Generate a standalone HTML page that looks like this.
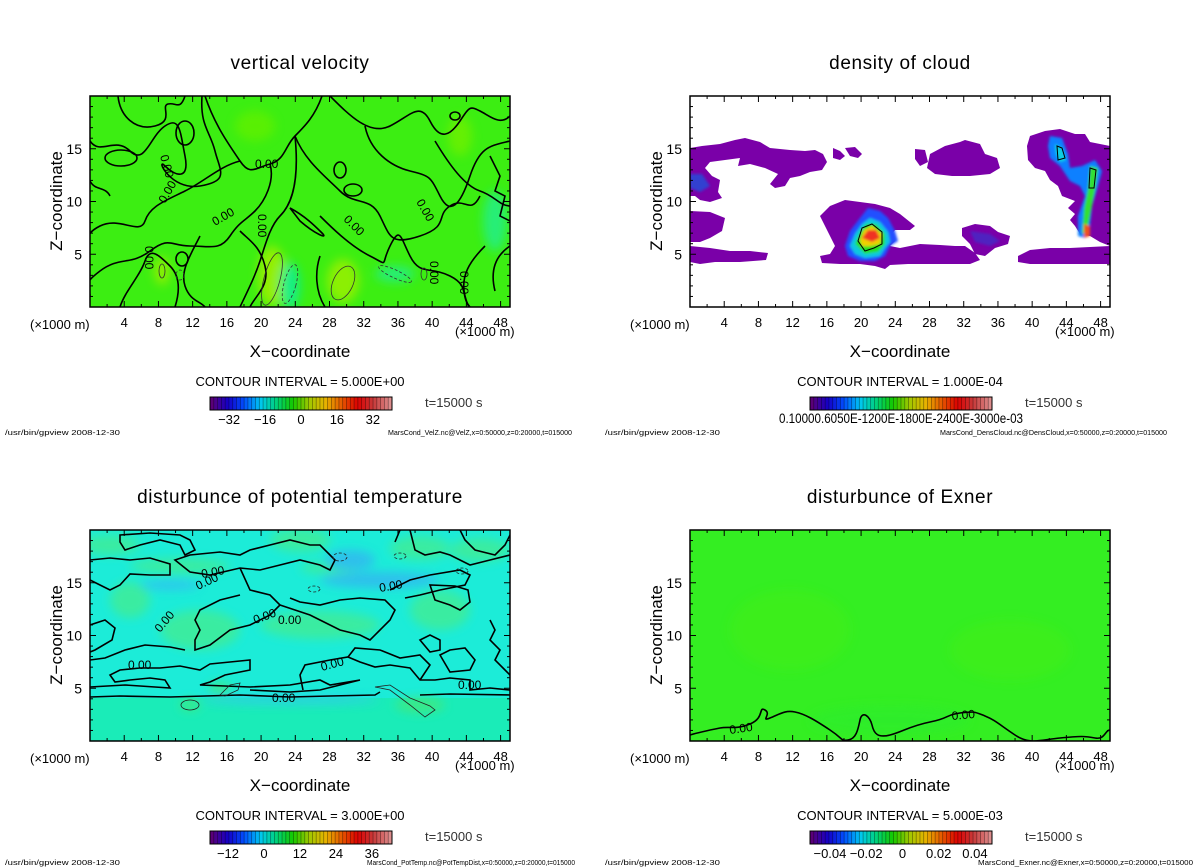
<!DOCTYPE html>
<html><head><meta charset="utf-8"><style>
html,body{margin:0;padding:0;background:#fff}
svg{display:block;font-family:"Liberation Sans",sans-serif}
</style></head><body>
<svg id="root" width="1200" height="868" viewBox="0 0 1200 868" xmlns="http://www.w3.org/2000/svg">
<defs>
<filter id="blur4"><feGaussianBlur stdDeviation="5"/></filter>
<filter id="blur2"><feGaussianBlur stdDeviation="1.2"/></filter>
<clipPath id="clipPlot"><rect x="0" y="0" width="420" height="211"/></clipPath>
</defs>

<!-- Panel 1: vertical velocity -->
<g>
<text x="300" y="69" font-size="19" text-anchor="middle" letter-spacing="0.6">vertical velocity</text>
<g transform="translate(90,96)">
<g clip-path="url(#clipPlot)">
<rect width="420" height="211" fill="#3cee12"/>
<g filter="url(#blur4)" opacity="0.8">
<ellipse cx="182" cy="180" rx="14" ry="30" fill="#a8f000"/>
<ellipse cx="253" cy="185" rx="16" ry="22" fill="#a0f000"/>
<ellipse cx="72" cy="175" rx="8" ry="14" fill="#a0f000"/>
<ellipse cx="200" cy="190" rx="10" ry="24" fill="#10eea0"/>
<ellipse cx="305" cy="178" rx="20" ry="8" fill="#20ee90"/>
<ellipse cx="405" cy="125" rx="12" ry="30" fill="#20ee90"/>
<ellipse cx="370" cy="40" rx="12" ry="20" fill="#70f000"/>
<ellipse cx="165" cy="30" rx="20" ry="15" fill="#60f000"/>
</g>
<g fill="none" stroke="#000" stroke-width="1.6">
<path d="M0,45 C10,60 25,40 40,55 S60,40 75,30 S90,35 95,60 S85,80 75,70 S80,95 110,90 S130,75 125,55 S110,30 112,0"/>
<path d="M28,0 C30,20 45,35 65,30 S70,10 78,8 S90,15 95,0"/>
<path d="M115,0 C125,30 140,50 150,65 S165,72 180,68 S195,50 205,40 S225,20 232,0"/>
<path d="M150,65 C130,70 115,85 95,95 S60,110 55,125 S30,120 10,130 S0,150 0,150"/>
<path d="M205,40 C215,65 235,80 250,95 S280,100 290,120 S300,150 330,140 S345,120 360,110 S380,120 390,100"/>
<path d="M180,68 C185,85 175,105 165,115 S150,125 140,140 S120,150 100,150 S80,140 60,155 S30,160 10,175 S0,190 0,200"/>
<path d="M205,40 C210,90 200,110 190,120 S175,150 170,165 S160,190 150,211"/>
<path d="M230,120 C240,130 260,150 280,160 S290,170 300,150 S310,140 320,160 S340,170 360,180 S370,200 380,211"/>
<path d="M240,0 C260,20 280,40 300,30 S330,5 340,25 S360,40 370,25 S380,10 390,15 S410,30 420,20"/>
<path d="M275,30 C280,55 300,70 320,75 S340,80 350,100 S370,110 380,80 S400,50 420,45"/>
<path d="M345,45 C360,70 375,90 390,95 S410,110 420,110"/>
<path d="M150,135 C160,145 170,150 175,170 S165,200 160,211"/>
<path d="M110,140 C100,160 90,175 95,190 S110,205 115,211"/>
<path d="M30,211 C35,195 50,180 55,165 S70,160 80,170 S90,195 85,211"/>
<path d="M230,160 C225,175 225,195 235,211"/>
<path d="M395,150 C380,165 370,180 375,200 S385,211 385,211"/>
<path d="M420,150 C405,160 400,175 405,195"/>
<path d="M0,85 C5,95 15,90 20,100 M400,60 L410,80 L405,95 L415,100 L410,120 L420,125"/>
<ellipse cx="95" cy="37" rx="9" ry="12"/>
<ellipse cx="250" cy="74" rx="6" ry="8"/>
<ellipse cx="263" cy="94" rx="9" ry="6"/>
<ellipse cx="31" cy="62" rx="16" ry="8"/>
<ellipse cx="92" cy="163" rx="6" ry="7"/>
<ellipse cx="365" cy="20" rx="5" ry="4"/>
<path d="M200,112 C215,120 225,130 232,137 S225,138 210,125 Z"/>
</g>
<g fill="none" stroke="#333" stroke-width="0.8">
<ellipse cx="72" cy="175" rx="3" ry="7"/>
<ellipse cx="182" cy="183" rx="8" ry="27" transform="rotate(15 182 183)"/>
<ellipse cx="253" cy="187" rx="10" ry="18" transform="rotate(25 253 187)"/>
<ellipse cx="334" cy="178" rx="3" ry="6"/>
<ellipse cx="200" cy="188" rx="6" ry="20" stroke-dasharray="3,2" transform="rotate(15 200 188)"/>
<ellipse cx="90" cy="179" rx="4" ry="5" stroke-dasharray="3,2"/>
<ellipse cx="305" cy="178" rx="18" ry="4" stroke-dasharray="3,2" transform="rotate(25 305 178)"/>
</g>
<g font-size="12" fill="#000">
<text x="165" y="72">0.00</text>
<text x="70" y="60" transform="rotate(75 70 60)">0.00</text>
<text x="75" y="108" transform="rotate(-60 75 108)">0.00</text>
<text x="125" y="130" transform="rotate(-30 125 130)">0.00</text>
<text x="55" y="150" transform="rotate(90 55 150)">0.00</text>
<text x="168" y="118" transform="rotate(90 168 118)">0.00</text>
<text x="253" y="124" transform="rotate(45 253 124)">0.00</text>
<text x="326" y="106" transform="rotate(60 326 106)">0.00</text>
<text x="340" y="165" transform="rotate(90 340 165)">0.00</text>
<text x="370" y="175" transform="rotate(90 370 175)">0.00</text>
</g>
</g>
<rect width="420" height="211" fill="none" stroke="#000" stroke-width="1.5"/>
</g>
</g>

<!-- Panel 2: density of cloud -->
<g>
<text x="900" y="69" font-size="19" text-anchor="middle" letter-spacing="0.6">density of cloud</text>
<g transform="translate(690,96)">
<g clip-path="url(#clipPlot)">
<rect width="420" height="211" fill="#fff"/>
<g fill="#7a00a8">
<path d="M0,52 L12,50 L30,48 L45,44 L55,42 L70,46 L80,52 L100,54 L115,55 L125,54 L133,58 L137,66 L132,74 L120,76 L110,80 L100,82 L95,90 L85,92 L80,88 L88,78 L75,72 L60,68 L48,70 L50,62 L35,64 L20,66 L15,72 L22,80 L30,84 L28,96 L32,102 L20,106 L10,104 L5,100 L0,100 Z"/>
<path d="M0,115 L20,116 L35,122 L32,135 L20,142 L10,146 L0,146 Z"/>
<path d="M0,150 L20,152 L40,155 L60,155 L78,157 L76,164 L50,166 L25,166 L10,168 L0,166 Z"/>
<path d="M143,52 L150,55 L155,60 L150,64 L143,62 Z"/>
<path d="M155,52 L165,51 L172,58 L168,62 L160,60 Z"/>
<path d="M225,53 L235,54 L238,66 L230,70 L225,63 Z"/>
<path d="M240,58 L255,50 L270,46 L275,44 L290,48 L295,58 L307,62 L310,72 L300,78 L280,80 L262,80 L245,78 L237,72 Z"/>
<path d="M130,120 L140,110 L155,104 L170,106 L185,108 L200,112 L210,118 L220,126 L225,130 L220,134 L205,134 L200,140 L205,145 L200,150 L210,152 L230,148 L250,149 L265,150 L275,150 L285,157 L290,164 L280,168 L260,168 L240,168 L218,168 L200,169 L195,173 L185,170 L170,168 L150,168 L132,167 L130,160 L140,158 L145,150 L140,140 L135,130 Z"/>
<path d="M272,132 L285,128 L300,130 L308,136 L320,140 L318,148 L305,152 L295,160 L285,158 L280,148 L272,140 Z"/>
<path d="M328,160 L340,154 L360,152 L380,152 L400,151 L420,150 L420,168 L395,168 L370,168 L340,168 L328,166 Z"/>
<path d="M340,40 L355,35 L370,33 L385,38 L395,38 L400,46 L410,48 L420,50 L420,150 L410,146 L400,140 L390,138 L385,130 L380,124 L385,118 L378,112 L385,105 L372,100 L368,90 L360,84 L355,75 L345,72 L338,64 L337,50 Z"/>
</g>
<g filter="url(#blur2)">
<path d="M155,150 L160,135 L170,122 L178,112 L190,115 L198,122 L205,135 L208,145 L200,150 L195,160 L185,165 L170,165 L158,160 Z" fill="#2050ff"/>
<path d="M160,150 L165,138 L172,128 L180,122 L190,126 L198,136 L200,146 L195,152 L190,160 L175,162 L165,158 Z" fill="#10c8e0"/>
<path d="M165,148 L170,136 L176,128 L186,128 L195,138 L195,148 L188,156 L175,158 Z" fill="#20e020"/>
<path d="M170,144 L174,134 L182,130 L192,138 L190,148 L180,150 L172,150 Z" fill="#f0d000"/>
<path d="M172,142 L178,134 L186,134 L190,142 L182,146 Z" fill="#f03020"/>
<path d="M0,78 L12,78 L20,90 L10,96 L0,92 Z" fill="#3040d0"/>
<path d="M360,40 L372,42 L378,58 L380,72 L392,70 L405,64 L412,75 L408,90 L402,110 L400,130 L395,142 L388,140 L388,120 L395,100 L390,90 L380,85 L370,70 L360,62 L358,50 Z" fill="#1080ff"/>
<path d="M365,48 L372,52 L376,64 L370,66 L366,58 Z" fill="#10d0e0"/>
<path d="M400,70 L408,72 L405,95 L400,120 L397,135 L392,138 L394,112 L398,92 Z" fill="#30e030"/>
<path d="M394,128 L400,130 L400,140 L394,142 Z" fill="#f05020"/>
<path d="M280,135 L300,138 L310,145 L300,150 L285,146 Z" fill="#5020c0"/>
</g>
<g fill="none" stroke="#000" stroke-width="1">
<path d="M168,145 L172,132 L182,128 L192,136 L192,148 L184,152 L175,155 Z"/>
<path d="M367,50 L372,52 L375,62 L368,64 Z"/>
<path d="M400,72 L406,74 L404,92 L399,92 Z"/>
</g>
</g>
<rect width="420" height="211" fill="none" stroke="#000" stroke-width="1.5"/>
</g>
</g>

<!-- Panel 3: potential temperature -->
<g>
<text x="300" y="503" font-size="19" text-anchor="middle" letter-spacing="0.6">disturbunce of potential temperature</text>
<g transform="translate(90,530)">
<g clip-path="url(#clipPlot)">
<rect width="420" height="211" fill="#1cecd8"/>
<rect y="168" width="420" height="43" fill="#1aecb8"/>
<g filter="url(#blur4)" opacity="0.85">
<ellipse cx="20" cy="15" rx="30" ry="10" fill="#40ec98"/>
<ellipse cx="210" cy="10" rx="30" ry="12" fill="#40ec98"/>
<ellipse cx="330" cy="18" rx="30" ry="12" fill="#40ec98"/>
<ellipse cx="390" cy="20" rx="30" ry="12" fill="#40ec98"/>
<ellipse cx="90" cy="36" rx="50" ry="8" fill="#40ec98"/>
<ellipse cx="240" cy="38" rx="30" ry="6" fill="#40ec98"/>
<ellipse cx="110" cy="100" rx="40" ry="20" fill="#40ec98"/>
<ellipse cx="230" cy="95" rx="60" ry="14" fill="#40ec98"/>
<ellipse cx="350" cy="80" rx="30" ry="20" fill="#40ec98"/>
<ellipse cx="40" cy="70" rx="20" ry="18" fill="#40ec98"/>
<ellipse cx="290" cy="50" rx="60" ry="8" fill="#30b8f0"/>
<ellipse cx="260" cy="30" rx="25" ry="10" fill="#30b8f0"/>
<ellipse cx="80" cy="55" rx="30" ry="5" fill="#30c0f0"/>
<ellipse cx="200" cy="170" rx="90" ry="4" fill="#30c8f0"/>
<ellipse cx="100" cy="175" rx="10" ry="6" fill="#40e880"/>
<ellipse cx="130" cy="158" rx="12" ry="6" fill="#40e880"/>
<ellipse cx="330" cy="175" rx="25" ry="8" fill="#40e880"/>
</g>
<g fill="none" stroke="#000" stroke-width="1.6">
<path d="M0,167 L30,166 L80,167 L150,165 L200,167 L240,166 L285,165 L290,162"/>
<path d="M330,165 L360,164 L420,165"/>
<path d="M0,157 L35,155 L80,158 L75,150 L60,148 L40,150 L25,152 L20,145 L30,140 L50,138 L70,138 L90,136 L110,140 L120,134 L140,132 L160,130 L160,140 L135,145 L120,152 L110,155 L160,157 L200,155 L230,150 L240,155 L270,150 L230,160 L200,162 L160,160"/>
<path d="M213,160 L210,145 L215,135 L240,130 L258,127 L270,132 L285,137 L300,135 L320,138 L330,150 L345,150 L360,148 L380,150 L380,160 L400,158 L420,160"/>
<path d="M258,127 L265,118 L290,120 L310,128 L330,125 L340,135 L330,150"/>
<path d="M0,95 L15,90 L25,98 L22,110 L5,120 L0,122"/>
<path d="M0,30 L20,28 L40,30 L60,28 L80,34 L80,45 L60,45 L40,44 L30,55 L20,60 L10,55 L0,50"/>
<path d="M30,5 L60,3 L90,5 L100,10 L105,20 L95,25 L90,15 L70,10 L50,15 L35,20 L30,12 Z"/>
<path d="M85,30 L100,25 L130,22 L150,25 L160,20 L180,15 L200,10 L220,15 L230,15 L240,25 L245,30 L240,40 L230,35 L210,30 L190,35 L170,40 L150,38 L120,45 L100,42 Z"/>
<path d="M150,38 L160,60 L180,65 L190,75 L180,85 L160,95 L140,100 L120,115 L105,120 L105,110 L110,100 L105,90 L110,80 L130,70 L150,65"/>
<path d="M190,75 L205,80 L220,85 L230,90 L250,100 L270,105 L280,110 L290,100 L300,90 L305,80 L295,70 L270,68 L250,70 L230,75 L210,72 L200,68"/>
<path d="M300,60 L320,50 L340,45 L370,40 L380,45 L375,55 L350,60 L330,65 L315,68"/>
<path d="M305,12 L310,0 M320,0 L325,20 L335,25 L350,22 L360,25 L380,35 L400,30 L420,25"/>
<path d="M370,0 L375,10 L385,20 L405,25 L415,15 L420,5"/>
<path d="M340,55 L345,70 L360,75 L370,80 L380,72 L378,60 L365,56 Z"/>
<path d="M0,130 L15,128 L35,120 L55,115 L80,117 L95,120"/>
<path d="M330,110 L340,105 L350,110 L350,120 L340,122 Z"/>
<path d="M350,125 L360,120 L375,118 L385,130 L380,140 L360,142 Z"/>
<path d="M400,90 L405,100 L400,110 L410,120 L405,130 L415,140 L420,145"/>
</g>
<g fill="none" stroke="#222" stroke-width="0.8">
<ellipse cx="100" cy="175" rx="9" ry="5"/>
<path d="M130,165 L140,155 L150,153 L148,160 L135,166 Z"/>
<path d="M285,157 L300,160 L320,175 L335,187 L345,180 L340,176 L320,168 L300,155 Z"/>
<ellipse cx="250" cy="27" rx="7" ry="4" stroke-dasharray="3,2"/>
<ellipse cx="310" cy="26" rx="6" ry="3" stroke-dasharray="3,2"/>
<ellipse cx="372" cy="41" rx="6" ry="3" stroke-dasharray="3,2"/>
<ellipse cx="224" cy="59" rx="6" ry="3" stroke-dasharray="3,2"/>
</g>
<g font-size="12" fill="#000">
<text x="112" y="48" transform="rotate(-10 112 48)">0.00</text>
<text x="108" y="60" transform="rotate(-25 108 60)">0.00</text>
<text x="70" y="103" transform="rotate(-50 70 103)">0.00</text>
<text x="165" y="94" transform="rotate(-20 165 94)">0.00</text>
<text x="188" y="94">0.00</text>
<text x="38" y="139">0.00</text>
<text x="182" y="172">0.00</text>
<text x="232" y="141" transform="rotate(-15 232 141)">0.00</text>
<text x="290" y="62" transform="rotate(-10 290 62)">0.00</text>
<text x="368" y="159">0.00</text>
</g>
</g>
<rect width="420" height="211" fill="none" stroke="#000" stroke-width="1.5"/>
</g>
</g>

<!-- Panel 4: Exner -->
<g>
<text x="900" y="503" font-size="19" text-anchor="middle" letter-spacing="0.6">disturbunce of Exner</text>
<g transform="translate(690,530)">
<g clip-path="url(#clipPlot)">
<rect width="420" height="211" fill="#34ee22"/>
<g filter="url(#blur4)" opacity="0.5">
<ellipse cx="100" cy="100" rx="60" ry="40" fill="#44ee18"/>
<ellipse cx="320" cy="120" rx="60" ry="30" fill="#44ee18"/>
<ellipse cx="200" cy="190" rx="80" ry="15" fill="#2cec30"/>
</g>
<path d="M0,205 C10,202 20,200 30,198 S45,200 60,194 S68,176 75,180 S70,192 80,188 S95,180 105,182 S125,190 140,200 S150,211 158,210 S168,200 170,190 S180,186 182,195 S188,208 200,205 S220,196 240,192 S255,185 270,183 S285,182 295,186 S310,195 325,205 S350,210 370,208 S395,206 405,208 S415,200 420,200" fill="none" stroke="#000" stroke-width="1.6"/>
<g font-size="12" fill="#000">
<text x="40" y="204" transform="rotate(-8 40 204)">0.00</text>
<text x="262" y="190" transform="rotate(-5 262 190)">0.00</text>
</g>
</g>
<rect width="420" height="211" fill="none" stroke="#000" stroke-width="1.5"/>
</g>
</g>

<g id="chrome"></g>
</svg>
<script>
// axis data
var xTickValues = [4, 8, 12, 16, 20, 24, 28, 32, 36, 40, 44, 48];
var yTickValues = [5, 10, 15];
var xDomain = [0, 49.1];
var yDomain = [0, 20];
// colorbar tick labels per panel
var velTicks = [-32, -16, 0, 16, 32];
var velTickLabels = ["\u221232", "\u221216", "0", "16", "32"];
var velRange = [-40.5, 40.5];
var tempTicks = [-12, 0, 12, 24, 36];
var tempTickLabels = ["\u221212", "0", "12", "24", "36"];
var tempRange = [-18, 42.7];
var exnerTicks = [-0.04, -0.02, 0, 0.02, 0.04];
var exnerTickLabels = ["\u22120.04", "\u22120.02", "0", "0.02", "0.04"];
var exnerRange = [-0.051, 0.0494];
var colorStops = [[90,0,120],[20,0,200],[0,80,255],[0,200,240],[0,210,120],[20,200,0],[160,200,0],[230,180,0],[230,90,0],[220,0,0],[200,60,60],[220,140,140]];

var NS = "http://www.w3.org/2000/svg";
var chrome = document.getElementById('chrome');
function mk(tag, attrs, parent) {
  var e = document.createElementNS(NS, tag);
  for (var k in attrs) e.setAttribute(k, attrs[k]);
  (parent || chrome).appendChild(e);
  return e;
}
function xScale(v) { return (v - xDomain[0]) / (xDomain[1] - xDomain[0]) * 420; }
function yScale(v) { return 211 - (v - yDomain[0]) / (yDomain[1] - yDomain[0]) * 211; }

var panels = [
  {ox: 90, oy: 96, foot: "MarsCond_VelZ.nc@VelZ,x=0:50000,z=0:20000,t=015000", fx: 388, fw: 184, ci: "CONTOUR INTERVAL = 5.000E+00", ticks: velTicks, labels: velTickLabels, range: velRange},
  {ox: 690, oy: 96, foot: "MarsCond_DensCloud.nc@DensCloud,x=0:50000,z=0:20000,t=015000", fx: 940, fw: 227, ci: "CONTOUR INTERVAL = 1.000E-04", ticks: null},
  {ox: 90, oy: 530, foot: "MarsCond_PotTemp.nc@PotTempDist,x=0:50000,z=0:20000,t=015000", fx: 367, fw: 208, ci: "CONTOUR INTERVAL = 3.000E+00", ticks: tempTicks, labels: tempTickLabels, range: tempRange},
  {ox: 690, oy: 530, foot: "MarsCond_Exner.nc@Exner,x=0:50000,z=0:20000,t=015000", fx: 978, fw: 215, ci: "CONTOUR INTERVAL = 5.000E-03", ticks: exnerTicks, labels: exnerTickLabels, range: exnerRange}
];

function stripeColor(t) {
  var n = colorStops.length - 1, p = t * n, i = Math.min(Math.floor(p), n - 1), f = p - i;
  var a = colorStops[i], b = colorStops[i + 1];
  return 'rgb(' + [0,1,2].map(function (k) { return Math.round(a[k] + (b[k] - a[k]) * f); }).join(',') + ')';
}

panels.forEach(function (P, pi) {
  var tg = mk('g', {transform: 'translate(' + P.ox + ',' + P.oy + ')'});
  
  
  for (var v = 2; v < xDomain[1]; v += 2) {
    var x = xScale(v), len = (v % 4 === 0) ? 6 : 3;
    mk('line', {x1: x, y1: 211, x2: x, y2: 211 - len, stroke: '#000', 'stroke-width': 1}, tg);
    mk('line', {x1: x, y1: 0, x2: x, y2: len, stroke: '#000', 'stroke-width': 1}, tg);
  }
  for (var w = 1; w < 20; w++) {
    var y = yScale(w), l2 = (w % 5 === 0) ? 6 : 3;
    mk('line', {x1: 0, y1: y, x2: l2, y2: y, stroke: '#000', 'stroke-width': 1}, tg);
    mk('line', {x1: 420, y1: y, x2: 420 - l2, y2: y, stroke: '#000', 'stroke-width': 1}, tg);
  }
  xTickValues.forEach(function (v) {
    var t = mk('text', {x: P.ox + xScale(v), y: P.oy + 231, 'font-size': 13, 'text-anchor': 'middle'});
    
    
    t.textContent = v;
  });
  yTickValues.forEach(function (v) {
    var t = mk('text', {x: P.ox - 8, y: P.oy + yScale(v) + 5, 'font-size': 14, 'text-anchor': 'end'});
    
    
    t.textContent = v;
  });
  var cx = P.ox + 210;
  var yl = mk('text', {x: P.ox - 28, y: P.oy + 105, 'font-size': 17, 'text-anchor': 'middle', transform: 'rotate(-90 ' + (P.ox - 28) + ' ' + (P.oy + 105) + ')'});
  
  
  yl.textContent = 'Z\u2212coordinate';
  var u1 = mk('text', {x: P.ox - 60, y: P.oy + 233, 'font-size': 13});
  
  
  u1.textContent = '(\u00d71000 m)';
  var u2 = mk('text', {x: P.ox + 365, y: P.oy + 240, 'font-size': 13});
  
  
  u2.textContent = '(\u00d71000 m)';
  var xl = mk('text', {x: cx, y: P.oy + 261, 'font-size': 17, 'text-anchor': 'middle'});
  
  
  xl.textContent = 'X\u2212coordinate';
  var ci = mk('text', {x: cx, y: P.oy + 290, 'font-size': 13, 'text-anchor': 'middle'});
  
  
  ci.textContent = P.ci;
  var bx = P.ox + 120, by = P.oy + 301, bw = 182, bh = 13, n = 48;
  var cb = mk('g', {});
  
  
  for (var i = 0; i < n; i++) {
    mk('rect', {x: bx + i * bw / n, y: by, width: bw / n + 0.3, height: bh, fill: stripeColor(i / (n - 1))}, cb);
    mk('line', {x1: bx + i * bw / n, y1: by, x2: bx + i * bw / n, y2: by + bh, stroke: 'rgba(0,0,0,0.45)', 'stroke-width': 0.7}, cb);
  }
  mk('rect', {x: bx, y: by, width: bw, height: bh, fill: 'none', stroke: '#000', 'stroke-width': 1}, cb);
  if (P.ticks) {
    P.ticks.forEach(function (v, k) {
      var t = mk('text', {x: bx + (v - P.range[0]) / (P.range[1] - P.range[0]) * bw, y: by + 27, 'font-size': 13, 'text-anchor': 'middle'});
      
      
      t.textContent = P.labels[k];
    });
  } else {
    var t2 = mk('text', {x: 901, y: by + 26, 'font-size': 14, 'text-anchor': 'middle', textLength: 244, lengthAdjust: 'spacingAndGlyphs'});
    
    
    t2.textContent = '0.10000.6050E-1200E-1800E-2400E-3000e-03';
  }
  var tt = mk('text', {x: P.ox + 335, y: P.oy + 311, 'font-size': 13, fill: '#333'});
  
  
  tt.textContent = 't=15000 s';
  var fy = Math.min(P.oy + 339, 865);
  var f1 = mk('text', {x: P.ox - 85, y: fy, 'font-size': 7.5, textLength: 115, lengthAdjust: 'spacingAndGlyphs'});
  
  
  f1.textContent = '/usr/bin/gpview   2008-12-30';
  var f2 = mk('text', {x: P.fx, y: fy, 'font-size': 7.5, textLength: P.fw, lengthAdjust: 'spacingAndGlyphs'});
  
  
  f2.textContent = P.foot;
});
</script>
</body></html>
